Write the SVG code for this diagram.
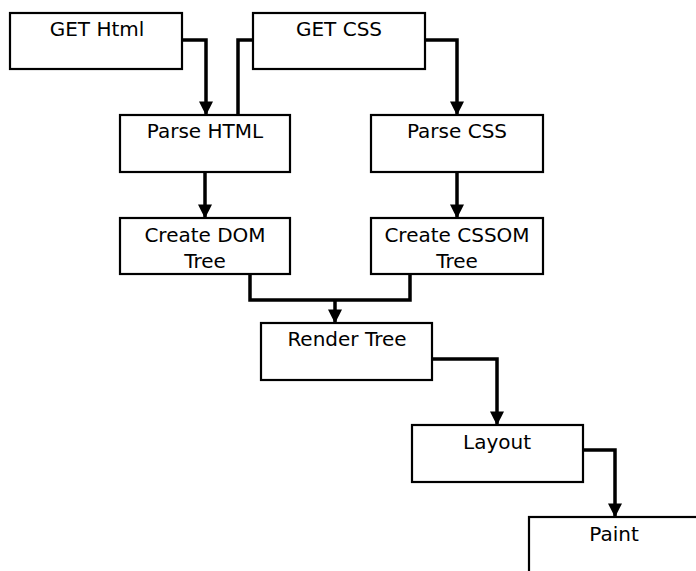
<svg xmlns="http://www.w3.org/2000/svg" width="696" height="571" viewBox="0 0 696 571">
<style>
.box{fill:#fff;stroke:#000;stroke-width:2.2}
.lbl{font-family:"DejaVu Sans","Open Sans",sans-serif;font-size:20px;fill:#000;text-anchor:middle}
.edge{fill:none;stroke:#000;stroke-width:3.5;stroke-linejoin:miter}
</style>
<defs>
<marker id="arr" viewBox="0 0 10 10" refX="9" refY="5" markerWidth="4" markerHeight="4" orient="auto" markerUnits="strokeWidth">
<path d="M0,0 L10,5 L0,10 z" fill="#000"/>
</marker>
</defs>
<rect width="696" height="571" fill="#fff"/>
<g id="connectors">
<path class="edge" d="M182,40 H206 V114" marker-end="url(#arr)"/>
<path class="edge" d="M253,40 H238 V115"/>
<path class="edge" d="M425,40 H457 V114" marker-end="url(#arr)"/>
<path class="edge" d="M205,172 V217" marker-end="url(#arr)"/>
<path class="edge" d="M457,172 V217" marker-end="url(#arr)"/>
<path class="edge" d="M250,274 V300 H410 V274"/>
<path class="edge" d="M335,300 V322" marker-end="url(#arr)"/>
<path class="edge" d="M432,359 H497 V424" marker-end="url(#arr)"/>
<path class="edge" d="M583,450 H615 V516" marker-end="url(#arr)"/>
</g>
<g id="get-html"><rect class="box" x="10" y="13" width="172" height="56"/><text class="lbl" x="97" y="36">GET Html</text></g>
<g id="get-css"><rect class="box" x="253" y="13" width="172" height="56"/><text class="lbl" x="339" y="36">GET CSS</text></g>
<g id="parse-html"><rect class="box" x="120" y="115" width="170" height="57"/><text class="lbl" x="205" y="138">Parse HTML</text></g>
<g id="parse-css"><rect class="box" x="371" y="115" width="172" height="57"/><text class="lbl" x="457" y="138">Parse CSS</text></g>
<g id="create-dom"><rect class="box" x="120" y="218" width="170" height="56"/><text class="lbl" x="205" y="242">Create DOM</text><text class="lbl" x="205" y="268">Tree</text></g>
<g id="create-cssom"><rect class="box" x="371" y="218" width="172" height="56"/><text class="lbl" x="457" y="242">Create CSSOM</text><text class="lbl" x="457" y="268">Tree</text></g>
<g id="render-tree"><rect class="box" x="261" y="323" width="171" height="57"/><text class="lbl" x="347" y="346">Render Tree</text></g>
<g id="layout"><rect class="box" x="412" y="425" width="171" height="57"/><text class="lbl" x="497" y="449">Layout</text></g>
<g id="paint"><rect class="box" x="529" y="517" width="180" height="70"/><text class="lbl" x="614" y="541">Paint</text></g>
</svg>
